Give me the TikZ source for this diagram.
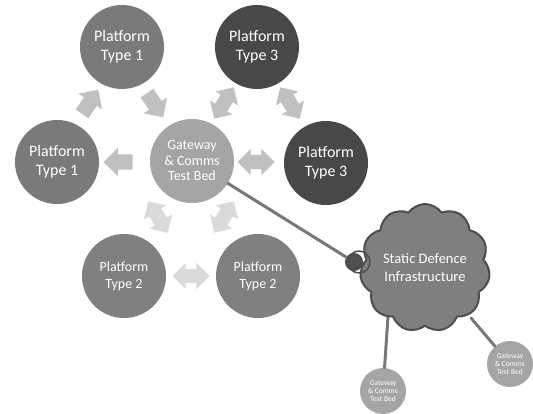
\documentclass[tikz,border=0pt]{standalone}
\usepackage{fontspec}
\setmainfont{Carlito}
\usepackage{tikz}
\usetikzlibrary{shapes.arrows,shapes.symbols}
\definecolor{typeone}{RGB}{122,122,122}
\definecolor{typetwo}{RGB}{128,128,128}
\definecolor{typethree}{RGB}{72,72,72}
\definecolor{gwgray}{RGB}{165,165,165}
\definecolor{arrup}{RGB}{192,192,192}
\definecolor{arrlow}{RGB}{218,218,218}
\definecolor{cloudfill}{RGB}{127,127,127}
\definecolor{cloudline}{RGB}{77,77,77}
\definecolor{linkgray}{RGB}{120,120,120}

\begin{document}
\begin{tikzpicture}[line cap=round,line join=round,x=1pt,y=1pt,
    plat/.style={circle,minimum size=84pt,inner sep=0pt,text=white,align=center,
        font=\fontsize{16}{19}\selectfont},
    gate/.style={circle,fill=gwgray,minimum size=84pt,inner sep=0pt,text=white,align=center,
        font=\fontsize{14}{15.5}\selectfont},
    minigate/.style={circle,fill=gwgray,minimum size=46pt,inner sep=0pt,text=white,align=center,
        font=\fontsize{7.5}{8.2}\selectfont},
    onearrow/.style={single arrow,single arrow head extend=6.5pt,minimum height=29pt,
        inner xsep=0pt,inner ysep=7.5pt,fill=arrup},
    twoarrow/.style={double arrow,double arrow head extend=6pt,minimum height=37pt,
        inner xsep=0pt,inner ysep=7pt,fill=#1},
    link/.style={draw=linkgray,line width=3pt}]
    \useasboundingbox (0,0) rectangle (533,-414);
    % platforms
    \node[plat,fill=typeone] (pta) at (122,-47) {Platform\\Type 1};
    \node[plat,fill=typeone] (ptb) at (57,-162) {Platform\\Type 1};
    \node[plat,fill=typethree] (ptc) at (257,-47) {Platform\\Type 3};
    \node[plat,fill=typethree] (ptd) at (326,-163) {Platform\\Type 3};
    \node[plat,fill=typetwo,font=\fontsize{14}{17}\selectfont] (pte) at (124,-276) {Platform\\Type 2};
    \node[plat,fill=typetwo,font=\fontsize{14}{17}\selectfont] (ptf) at (258,-276) {Platform\\Type 2};
    \node[gate] (gw) at (192,-161) {Gateway\\\&~Comms\\Test Bed};
    % block arrows
    \node[onearrow,rotate=56] (ba) at (88,-105) {};
    \node[onearrow,rotate=-56] (bb) at (153,-102) {};
    \node[onearrow,rotate=180] (bc) at (122,-162) {};
    \node[twoarrow=arrup,rotate=58] (bd) at (224,-103) {};
    \node[twoarrow=arrup,rotate=-58] (be) at (290,-103) {};
    \node[twoarrow=arrup] (bf) at (256,-162) {};
    \node[twoarrow=arrlow,rotate=-58] (bg) at (158,-217) {};
    \node[twoarrow=arrlow,rotate=58] (bh) at (224,-217) {};
    \node[twoarrow=arrlow] (bi) at (191,-276) {};
    % static defence
    \coordinate (sdia) at (388,-316);
    \coordinate (sdib) at (471,-318);
    \node[minigate] (gwa) at (383,-391) {Gateway\\\&~Comms\\Test Bed};
    \node[minigate] (gwb) at (510,-364) {Gateway\\\&~Comms\\Test Bed};
    \draw[link] (sdia) -- (gwa);
    \draw[link] (sdib) -- (gwb);
    \node[cloud,cloud puffs=11,cloud puff arc=110,cloud ignores aspect,minimum width=112pt,
        minimum height=128pt,fill=cloudfill,draw=cloudline,line width=2pt,text=white,align=center,
        font=\fontsize{14.5}{18}\selectfont] (sdi) at (425,-268) {Static Defence\\Infrastructure};
    \node[circle,fill=cloudline,minimum size=18pt,inner sep=0pt] (ring) at (354,-262) {};
    \draw[cloudline,line width=1.5pt] (ring.center) ++(5,0) circle (11);
    \draw[gray!70!black,line width=0.8pt] (ring.center) circle (4);
    \draw[link] (gw) -- (ring);
\end{tikzpicture}
\end{document}
